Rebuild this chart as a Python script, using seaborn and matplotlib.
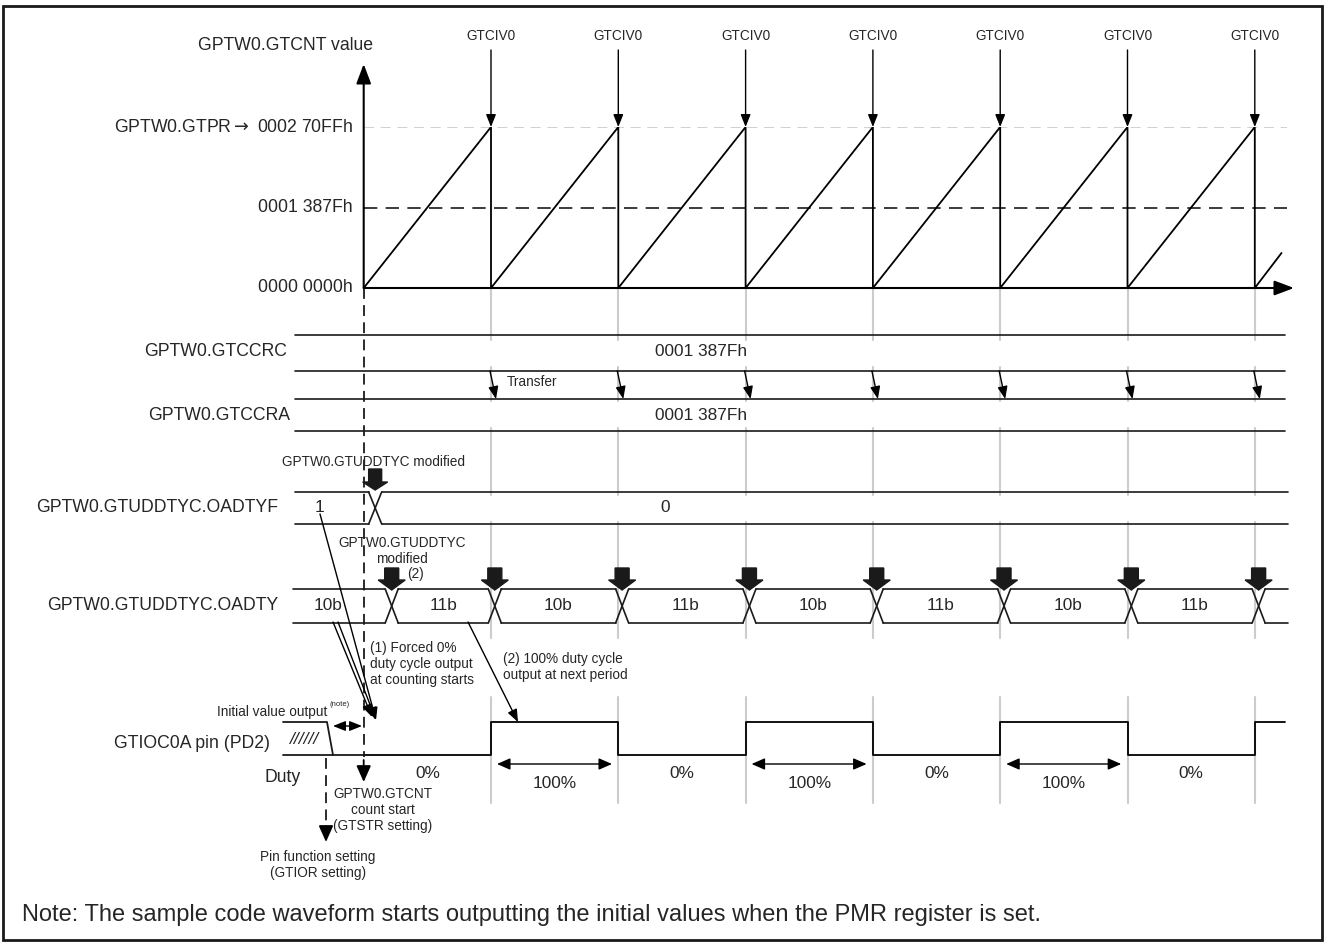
import numpy as np
import pandas as pd
import matplotlib
matplotlib.use('Agg')
import matplotlib.pyplot as plt
import seaborn as sns
from matplotlib.patches import Polygon, Rectangle

sns.set_theme(style='white')
plt.rcParams['font.family'] = ['Liberation Sans', 'DejaVu Sans']

# 计数器数据 (时间单位 = 1个周期)
GTPR = 0x270FF
GTCCR = 0x1387F
cnt_t = [0, 1, 1, 2, 2, 3, 3, 4, 4, 5, 5, 6, 6, 7, 7, 7.21]
cnt_v = [0, GTPR, 0, GTPR, 0, GTPR, 0, GTPR, 0, GTPR, 0, GTPR, 0, GTPR, 0, 0x8800]
ovf_t = [1, 2, 3, 4, 5, 6, 7]
cnt_labels = ['0000 0000h', '0001 387Fh', 'GPTW0.GTPR$\\rightarrow$ 0002 70FFh']
cnt_ticks = [0, GTCCR, GTPR]

# 寄存器行
gtccr_value = '0001 387Fh'
oadtyf_edges = [0.09]
oadtyf_vals = ['1', '0']
oadty_edges = [0.22, 1.03, 2.03, 3.03, 4.03, 5.03, 6.03, 7.03]
oadty_vals = ['10b', '11b', '10b', '11b', '10b', '11b', '10b', '11b']

# 引脚输出
pin_t = [0, 1, 2, 3, 4, 5, 6, 7, 7.24]
pin_lv = [0, 1, 0, 1, 0, 1, 0, 1, 1]
duty_lbl = ['0%', '100%', '0%', '100%', '0%', '100%', '0%']

W, H = 1325, 942
X0, P = 363.7, 127.3
LBL, VAL, SM = 12.7, 12.4, 9.8


def px(x):
    return (x - X0) / P


def dpx(d):
    return d / P


def arrow(a, xy, xytext, hl=0.7, hw=0.3, ms=10, lw=1.0, style='-|>'):
    a.annotate('', xy=xy, xytext=xytext, annotation_clip=False,
               arrowprops=dict(arrowstyle=f'{style},head_length={hl},head_width={hw}',
                               color='black', lw=lw, mutation_scale=ms,
                               shrinkA=0, shrinkB=0))


def bus(a, edges, x0, x1, top, bot, hw=dpx(6.5), lw=1.2):
    s = x0
    for e in edges:
        a.plot([s, e - hw], [top, top], color='k', lw=lw)
        a.plot([s, e - hw], [bot, bot], color='k', lw=lw)
        a.plot([e - hw, e + hw], [top, bot], color='k', lw=lw)
        a.plot([e - hw, e + hw], [bot, top], color='k', lw=lw)
        s = e + hw
    a.plot([s, x1], [top, top], color='k', lw=lw)
    a.plot([s, x1], [bot, bot], color='k', lw=lw)


def block_arrow(a, xc, y_top, y_head, y_tip, shaft=7, head=13.5):
    pts = [(xc - dpx(shaft), y_top), (xc + dpx(shaft), y_top), (xc + dpx(shaft), y_head),
           (xc + dpx(head), y_head), (xc, y_tip), (xc - dpx(head), y_head),
           (xc - dpx(shaft), y_head)]
    a.add_patch(Polygon(pts, closed=True, color='k', zorder=5))


fig = plt.figure(figsize=(W / 100, H / 100), dpi=100)
ax = fig.add_axes([0, 0, 1, 1])
ax.set_xlim(px(0), px(W))
ax.set_ylim(H, 0)
ax.axis('off')

# 计数器坐标轴 (0 -> y=288px, GTPR -> y=127px)
ca = fig.add_axes([0, (H - 288) / H, 1, 161 / H])
ca.set_xlim(px(0), px(W))
ca.set_ylim(0, GTPR)
ca.axis('off')
ca.patch.set_alpha(0)


def vy(ypix):
    return (288 - ypix) / 161 * GTPR


ca.plot([0, px(1287)], [GTPR, GTPR], color='#c8c8c8', lw=1.2, dashes=(6, 4), zorder=1)
ca.plot([0, px(1287)], [GTCCR, GTCCR], color='k', lw=1.2, dashes=(8, 5), zorder=1)
cnt_df = pd.DataFrame({'t': cnt_t, 'v': cnt_v})
sns.lineplot(data=cnt_df, x='t', y='v', ax=ca, color='black', lw=1.3,
             sort=False, estimator=None, zorder=3)
ca.axis('off')
arrow(ca, (0, vy(64)), (0, 0), hl=0.85, hw=0.32, ms=14, lw=1.5)
arrow(ca, (px(1294), 0), (0, 0), hl=0.85, hw=0.32, ms=14, lw=1.5)
for v, s in zip(cnt_ticks, cnt_labels):
    ca.text(px(353), v, s, ha='right', va='center', fontsize=LBL)
for t in ovf_t:
    arrow(ca, (t, GTPR), (t, vy(50)), hl=0.75, hw=0.3)
    ca.text(t, vy(36), 'GTCIV0', ha='center', va='center', fontsize=SM)

ax.text(px(286), 46, 'GPTW0.GTCNT value', ha='center', va='center', fontsize=LBL)

# 灰色周期参考线
grid_segs = [(288, 340), (367, 401), (428, 495), (522, 638), (697, 803)]
for t in ovf_t:
    for y0, y1 in grid_segs:
        ax.plot([t, t], [y0, y1], color='#cccccc', lw=1.5, zorder=0)

# GTCCRC / GTCCRA
for y in [335, 371, 399, 431]:
    ax.plot([px(295), px(1285)], [y, y], color='k', lw=1.2)
ax.text(px(701), 352, gtccr_value, ha='center', va='center', fontsize=VAL)
ax.text(px(701), 415, gtccr_value, ha='center', va='center', fontsize=VAL)
ax.text(px(287), 352, 'GPTW0.GTCCRC', ha='right', va='center', fontsize=LBL)
ax.text(px(290), 415, 'GPTW0.GTCCRA', ha='right', va='center', fontsize=LBL)
for t in ovf_t:
    arrow(ax, (t + dpx(5), 399), (t - dpx(1), 371), hl=0.75, hw=0.3)
ax.text(ovf_t[0] + dpx(16), 382, 'Transfer', ha='left', va='center', fontsize=SM)

# OADTYF
bus(ax, oadtyf_edges, px(295), px(1288), 492, 524)
ax.text(px(278), 508, 'GPTW0.GTUDDTYC.OADTYF', ha='right', va='center', fontsize=LBL)
ax.text(px(320), 508, oadtyf_vals[0], ha='center', va='center', fontsize=VAL)
ax.text(px(665), 508, oadtyf_vals[1], ha='center', va='center', fontsize=VAL)
block_arrow(ax, oadtyf_edges[0], 469, 482, 490, shaft=6.5, head=12.5)
ax.text(px(373), 462, 'GPTW0.GTUDDTYC modified', ha='center', va='center', fontsize=SM)

# OADTY
bus(ax, oadty_edges, px(293), px(1288), 589, 623)
ax.text(px(278), 606, 'GPTW0.GTUDDTYC.OADTY', ha='right', va='center', fontsize=LBL)
centers = [px(328)] + [(a + b) / 2 for a, b in zip(oadty_edges[:-1], oadty_edges[1:])]
for c, s in zip(centers, oadty_vals):
    ax.text(c, 606, s, ha='center', va='center', fontsize=VAL)
for e in oadty_edges:
    block_arrow(ax, e, 568, 580, 590)
ax.text(px(402), 551, 'GPTW0.GTUDDTYC\nmodified', ha='center', va='center', fontsize=SM,
        linespacing=1.2)
ax.text(px(415), 574, '(2)', ha='center', va='center', fontsize=SM)

# 引脚波形
PIN_LO, PIN_HI = 755, 722
pin_df = pd.DataFrame({'t': pin_t, 'y': [PIN_LO - lv * (PIN_LO - PIN_HI) for lv in pin_lv]})
sns.lineplot(data=pin_df, x='t', y='y', ax=ax, color='black', lw=1.3, sort=False,
             estimator=None, drawstyle='steps-post')
ax.axis('off')
ax.set_ylim(H, 0)
ax.plot([px(283), px(327), px(333)], [PIN_HI, PIN_HI, PIN_LO], color='k', lw=1.3)
ax.plot([px(283), 0], [PIN_LO, PIN_LO], color='k', lw=1.3)
ax.text(px(305), 740, '//////', ha='center', va='center', fontsize=12.5, style='italic')
ax.text(px(270), 743, 'GTIOC0A pin (PD2)', ha='right', va='center', fontsize=LBL)
ax.text(px(283), 777, 'Duty', ha='center', va='center', fontsize=LBL)
for i, s in enumerate(duty_lbl):
    if s == '100%':
        ax.text(i + 0.5, 783, s, ha='center', va='center', fontsize=VAL)
        arrow(ax, (i + dpx(121), 764), (i + dpx(6), 764), hl=0.8, hw=0.35, style='<|-|>')
    else:
        ax.text(i + 0.5, 773, s, ha='center', va='center', fontsize=VAL)

# 计数开始 / 引脚设置
ax.plot([0, 0], [288, 757], color='k', lw=1.3, dashes=(6, 3.5))
arrow(ax, (0, 782), (0, 760), hl=0.9, hw=0.4, ms=11, lw=1.3)
ax.plot([px(326), px(326)], [758, 827], color='k', lw=1.3, dashes=(6, 3.5))
arrow(ax, (px(326), 842), (px(326), 826), hl=0.9, hw=0.4, ms=11, lw=1.3)
arrow(ax, (px(362), 726), (px(333), 726), hl=0.75, hw=0.3, style='<|-|>')
ax.text(px(327), 712, 'Initial value output', ha='right', va='center', fontsize=SM)
ax.text(px(329), 704, '(note)', ha='left', va='center', fontsize=5.5)
ax.text(px(383), 810, 'GPTW0.GTCNT\ncount start\n(GTSTR setting)', ha='center',
        va='center', fontsize=SM, linespacing=1.2)
ax.text(px(318), 865, 'Pin function setting\n(GTIOR setting)', ha='center',
        va='center', fontsize=SM, linespacing=1.2)

# 注释引线
arrow(ax, (px(376), 720), (px(320), 514), hl=0.75, hw=0.3)
arrow(ax, (px(372), 717), (px(333), 622), hl=0.75, hw=0.3)
arrow(ax, (px(376), 720), (px(338), 622), hl=0.75, hw=0.3)
arrow(ax, (px(518), 722), (px(468), 622), hl=0.75, hw=0.3)
ax.text(px(370), 664, '(1) Forced 0%\nduty cycle output\nat counting starts', ha='left',
        va='center', fontsize=SM, linespacing=1.2)
ax.text(px(503), 667, '(2) 100% duty cycle\noutput at next period', ha='left',
        va='center', fontsize=SM, linespacing=1.2)

ax.text(px(22), 915, 'Note: The sample code waveform starts outputting the initial values '
        'when the PMR register is set.', ha='left', va='center', fontsize=17)

# 外框
ax.add_patch(Rectangle((px(3.5), 6), dpx(1318.5), 934, fill=False, lw=2, color='k'))

fig.savefig('out.png', dpi=100)
